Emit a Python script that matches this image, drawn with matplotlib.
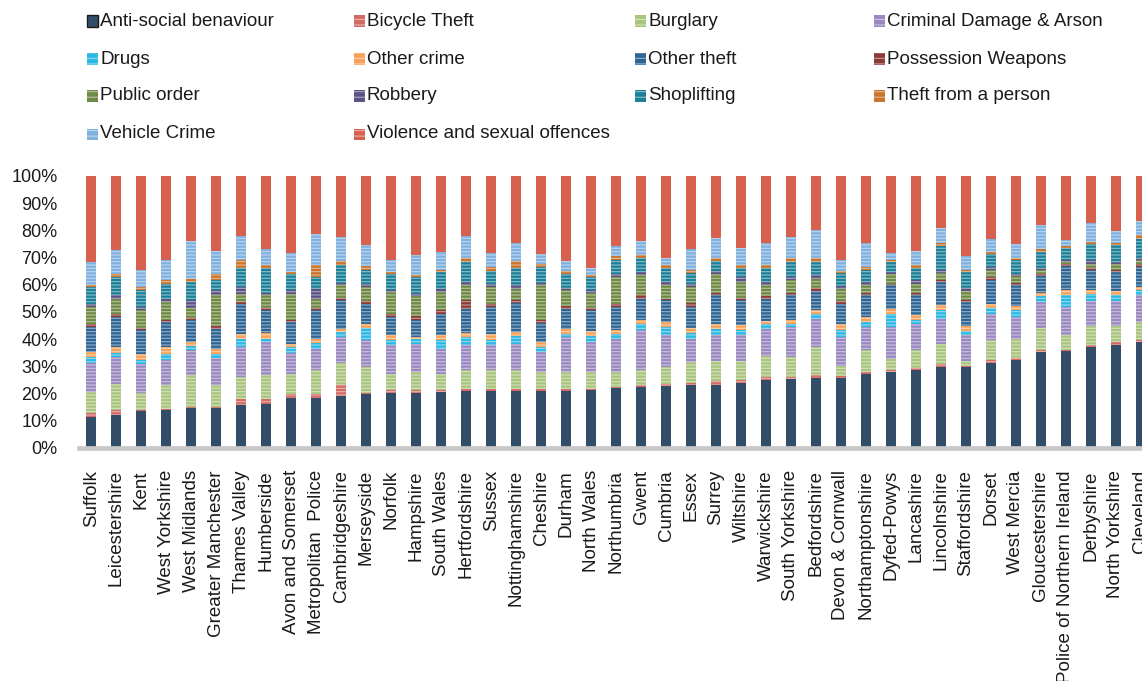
import numpy as np
import matplotlib
matplotlib.use("Agg")
import matplotlib.pyplot as plt
from matplotlib.patches import Rectangle

# Police force areas, in the order plotted
forces = [
    "Suffolk", "Leicestershire", "Kent", "West Yorkshire", "West Midlands",
    "Greater Manchester", "Thames Valley", "Humberside", "Avon and Somerset",
    "Metropolitan  Police", "Cambridgeshire", "Merseyside", "Norfolk",
    "Hampshire", "South Wales", "Hertfordshire", "Sussex", "Nottinghamshire",
    "Cheshire", "Durham", "North Wales", "Northumbria", "Gwent", "Cumbria",
    "Essex", "Surrey", "Wiltshire", "Warwickshire", "South Yorkshire",
    "Bedfordshire", "Devon & Cornwall", "Northamptonshire", "Dyfed-Powys",
    "Lancashire", "Lincolnshire", "Staffordshire", "Dorset", "West Mercia",
    "Gloucestershire", "Police of Northern Ireland", "Derbyshire",
    "North Yorkshire", "Cleveland",
]

series_names = [
    "Anti-social benaviour", "Bicycle Theft", "Burglary",
    "Criminal Damage & Arson", "Drugs", "Other crime", "Other theft",
    "Possession Weapons", "Public order", "Robbery", "Shoplifting",
    "Theft from a person", "Vehicle Crime", "Violence and sexual offences",
]

# Share of recorded crime (%) per category, one value per force
anti_social = [11.5, 12.2, 13.5, 14.0, 14.6, 14.7, 15.8, 16.2, 18.3, 18.3, 19.3,
               19.7, 20.1, 20.1, 20.5, 20.8, 20.8, 20.8, 20.8, 21.1, 21.4, 22.1,
               22.4, 22.9, 23.0, 23.2, 23.8, 25.1, 25.4, 25.8, 25.9, 27.3, 28.1,
               28.7, 29.6, 29.7, 31.2, 32.4, 35.3, 35.6, 37.1, 37.7, 38.9]
bicycle_theft = [1.3, 1.6, 0.6, 0.5, 0.4, 0.5, 2.3, 1.9, 1.4, 1.6, 3.7, 0.4, 1.4,
                 1.3, 1.0, 0.9, 0.9, 0.9, 0.9, 0.6, 0.3, 0.5, 0.6, 0.6, 0.8, 1.4,
                 1.3, 0.9, 0.6, 0.9, 0.6, 0.6, 0.4, 0.7, 1.2, 0.6, 1.0, 0.8, 0.8,
                 0.3, 0.6, 1.2, 0.7]
burglary = [7.7, 9.8, 6.0, 8.8, 11.7, 7.8, 7.9, 8.6, 7.6, 8.8, 8.2, 9.6, 5.8, 6.5,
            5.8, 7.0, 6.8, 7.0, 6.2, 6.2, 6.2, 5.3, 5.7, 6.2, 7.8, 7.3, 6.8, 8.0,
            7.4, 10.6, 3.8, 8.0, 4.3, 6.5, 7.3, 1.6, 7.4, 7.0, 8.1, 5.5, 7.0, 5.8,
            6.7]
criminal_damage = [10.7, 9.8, 10.6, 9.1, 9.2, 10.0, 11.1, 12.2, 7.8, 7.8, 9.6,
                   9.9, 10.4, 10.4, 9.2, 9.0, 9.2, 9.6, 7.4, 12.9, 11.0, 12.3,
                   14.5, 11.7, 8.6, 9.5, 9.5, 9.9, 11.1, 10.2, 10.5, 8.6, 11.7,
                   9.8, 9.4, 9.5, 9.5, 8.0, 9.5, 10.4, 9.4, 9.4, 9.8]
drugs = [2.2, 1.5, 1.5, 2.2, 1.6, 1.4, 3.1, 1.3, 2.0, 2.1, 1.8, 4.6, 1.9, 1.9, 3.1,
         3.1, 2.1, 2.7, 2.0, 1.2, 2.1, 1.6, 2.3, 3.1, 2.1, 2.5, 1.8, 1.6, 1.2, 1.9,
         2.7, 1.8, 4.9, 1.5, 3.4, 1.6, 2.5, 2.4, 2.1, 4.5, 2.4, 2.0, 1.9]
other_crime = [1.9, 2.2, 2.2, 2.5, 1.4, 2.1, 1.8, 2.1, 1.2, 1.6, 1.3, 1.5, 1.8,
               0.6, 1.8, 1.5, 2.2, 1.6, 1.6, 1.9, 1.9, 1.4, 1.7, 1.8, 1.9, 1.6,
               1.9, 1.2, 1.2, 1.2, 2.0, 1.9, 1.8, 1.6, 1.6, 1.7, 1.2, 1.5, 1.2,
               1.9, 1.7, 1.6, 1.2]
other_theft = [9.2, 11.1, 8.8, 9.2, 8.3, 7.4, 11.1, 8.3, 8.0, 10.4, 10.4, 7.4,
               6.8, 6.4, 8.0, 8.9, 9.8, 10.7, 7.0, 7.3, 7.7, 8.6, 7.7, 8.0, 7.6,
               10.6, 9.2, 8.2, 9.2, 7.1, 7.6, 7.9, 8.6, 7.3, 8.6, 9.0, 9.1, 7.7,
               6.1, 8.6, 7.2, 7.0, 7.4]
possession_weapons = [1.0, 0.9, 1.0, 0.9, 0.7, 0.8, 0.6, 1.0, 0.9, 1.0, 0.9, 1.0,
                      0.9, 1.2, 1.2, 3.1, 1.0, 1.0, 1.0, 0.9, 1.0, 1.0, 1.2, 0.6,
                      1.5, 0.9, 1.0, 0.9, 0.9, 1.3, 1.0, 0.9, 0.6, 0.9, 0.8, 0.8,
                      1.0, 0.9, 0.8, 1.0, 0.9, 0.9, 1.0]
public_order = [6.3, 5.8, 6.7, 6.5, 3.7, 11.4, 3.1, 4.5, 9.6, 3.3, 4.6, 5.1, 8.3,
                7.4, 6.8, 5.5, 6.4, 4.3, 12.9, 5.9, 5.4, 10.1, 7.4, 4.9, 5.9, 7.1,
                5.8, 4.0, 4.7, 3.3, 4.5, 2.8, 3.5, 3.4, 2.5, 3.2, 2.5, 2.4, 1.5,
                0.6, 1.5, 2.0, 1.4]
robbery = [1.0, 1.2, 0.9, 1.2, 2.7, 2.1, 2.4, 0.9, 1.2, 3.7, 0.9, 1.2, 0.8, 1.0,
           1.2, 1.3, 1.0, 1.2, 0.9, 1.0, 1.0, 1.0, 1.2, 1.3, 1.2, 0.9, 1.6, 1.3,
           1.0, 1.2, 0.9, 1.3, 0.8, 1.3, 1.0, 1.3, 1.2, 1.0, 0.9, 0.6, 1.2, 0.8,
           1.0]
shoplifting = [6.4, 6.8, 6.4, 5.5, 6.8, 3.7, 7.1, 9.0, 5.9, 4.1, 6.5, 5.2, 5.7,
               6.1, 6.1, 7.3, 4.9, 6.5, 5.9, 5.1, 4.7, 5.4, 5.0, 4.9, 4.0, 3.8,
               3.3, 4.9, 5.7, 4.9, 4.9, 4.3, 3.7, 4.3, 8.8, 5.7, 4.7, 5.2, 5.8,
               4.7, 5.9, 6.2, 7.0]
theft_from_person = [0.9, 1.0, 1.0, 1.5, 1.2, 2.2, 2.7, 1.2, 0.8, 4.5, 1.6, 1.2,
                     0.8, 0.6, 0.9, 1.6, 1.5, 2.5, 1.2, 1.0, 0.8, 1.2, 1.2, 1.2,
                     1.0, 0.9, 1.2, 1.2, 1.3, 1.6, 0.7, 1.2, 0.9, 1.2, 1.0, 0.7,
                     0.8, 0.7, 0.9, 0.5, 0.9, 0.8, 1.3]
vehicle_crime = [8.3, 8.8, 6.4, 7.4, 13.7, 8.3, 8.9, 5.8, 7.0, 11.4, 8.8, 7.8,
                 4.3, 7.4, 6.5, 7.9, 5.1, 6.6, 3.5, 3.7, 2.5, 3.7, 5.3, 2.8, 7.9,
                 7.6, 6.5, 8.2, 7.9, 10.1, 4.2, 8.6, 2.4, 5.3, 5.5, 5.1, 4.9, 4.9,
                 8.9, 2.2, 7.0, 4.5, 5.2]
violence_sexual = [31.6, 27.3, 34.4, 30.7, 24.0, 27.6, 22.1, 27.0, 28.3, 21.4,
                   22.4, 25.4, 31.0, 29.1, 27.9, 22.1, 28.3, 24.6, 28.7, 31.2,
                   34.0, 25.8, 23.8, 30.0, 26.7, 22.7, 26.3, 24.6, 22.4, 19.9,
                   30.7, 24.8, 28.3, 27.5, 19.3, 29.5, 23.0, 25.1, 18.1, 23.6,
                   17.2, 20.1, 16.5]

series_values = [anti_social, bicycle_theft, burglary, criminal_damage, drugs,
                 other_crime, other_theft, possession_weapons, public_order,
                 robbery, shoplifting, theft_from_person, vehicle_crime,
                 violence_sexual]

series_colors = ["#314D68", "#D46A66", "#A9C47F", "#9A88C0", "#2DB8E4",
                 "#F6A25A", "#2E6594", "#8C3B37", "#6F8A45", "#5B5382",
                 "#1C8198", "#C8742C", "#80B0DE", "#D7604F"]

plt.rcParams["font.family"] = ["Liberation Sans", "DejaVu Sans"]
plt.rcParams["hatch.linewidth"] = 0.8

W, H = 1142, 681
fig = plt.figure(figsize=(W / 100, H / 100), dpi=100)
ax = fig.add_axes([79 / W, 1 - 448 / H, 1 - 79 / W, 272 / H])

data = np.array(series_values, dtype=float)
shares = data / data.sum(axis=0) * 100.0
x = np.arange(len(forces))
bottom = np.zeros(len(forces))
stripe = (1, 1, 1, 0.48)
for k, (vals, col) in enumerate(zip(shares, series_colors)):
    plain = k in (0, len(series_names) - 1)
    ax.bar(x, vals, bottom=bottom, width=0.4, color=col,
           edgecolor=(1, 1, 1, 0) if plain else stripe, linewidth=0,
           hatch=None if plain else "-----", zorder=2)
    bottom += vals

ax.set_xlim(-0.5, 42.05)
ax.set_ylim(0, 100)
ax.set_yticks(np.arange(0, 101, 10))
ax.set_yticklabels([f"{v}%" for v in range(0, 101, 10)], fontsize=13)
ax.set_xticks(x)
ax.set_xticklabels(forces, rotation=90, fontsize=13.5, va="top", ha="center")
ax.tick_params(axis="y", length=0, pad=15.5, colors="#1a1a1a")
ax.tick_params(axis="x", length=0, pad=16, colors="#1a1a1a")
for side in ("top", "right", "left"):
    ax.spines[side].set_visible(False)
ax.spines["bottom"].set_color("#C8C8C8")
ax.spines["bottom"].set_linewidth(3.4)
ax.spines["bottom"].set_zorder(3)

# Legend laid out as a 4-column grid above the plot
col_x = [87, 354, 635, 874]
row_y = [21, 59, 96, 134]
for i, (name, col) in enumerate(zip(series_names, series_colors)):
    r, c = divmod(i, 4)
    x0, yc = col_x[c], row_y[r]
    marker = Rectangle((x0 / W, 1 - (yc + 5.5) / H), 11 / W, 11 / H,
                       transform=fig.transFigure, facecolor=col,
                       edgecolor="#1a1a1a" if i == 0 else stripe,
                       linewidth=1.0 if i == 0 else 0,
                       hatch=None if i == 0 else "---")
    fig.add_artist(marker)
    fig.text((x0 + 13) / W, 1 - yc / H, name, fontsize=13.5, va="center",
             ha="left", color="#1a1a1a")

fig.savefig("out.png", dpi=100, facecolor="white")
